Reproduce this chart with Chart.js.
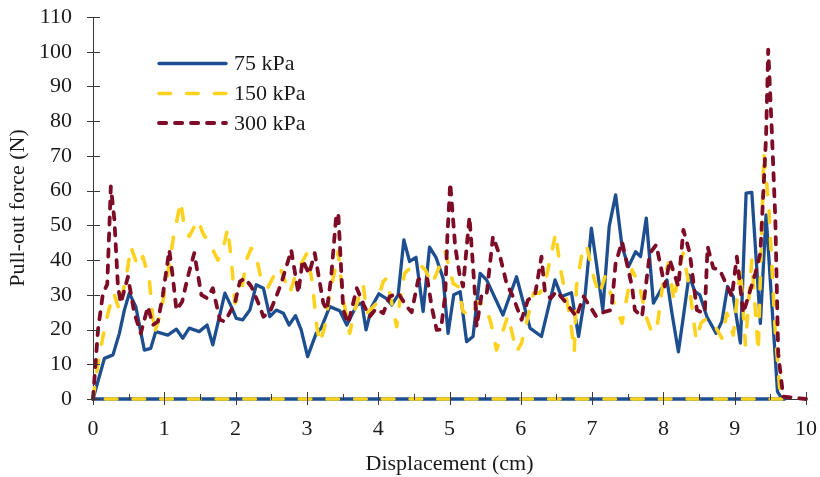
<!DOCTYPE html>
<html><head><meta charset="utf-8">
<script src="https://cdn.jsdelivr.net/npm/chart.js@4/dist/chart.umd.min.js"></script>
<style>html,body{margin:0;padding:0;background:#fff}canvas{display:block}</style>
</head><body>
<canvas id="c" width="820" height="477"></canvas>
<script>
const seriesLabels = ['75 kPa', '150 kPa', '300 kPa'];
const xTicks = [0,1,2,3,4,5,6,7,8,9,10];
const yTicks = [0,10,20,30,40,50,60,70,80,90,100,110];

const x75 = [0,0.16,0.28,0.37,0.44,0.51,0.60,0.72,0.81,0.88,1.05,1.17,1.26,1.35,1.49,1.6,1.68,1.85,1.94,2.01,2.1,2.2,2.29,2.39,2.48,2.57,2.67,2.75,2.84,2.92,3.01,3.13,3.2,3.32,3.46,3.56,3.7,3.77,3.83,3.91,4.01,4.11,4.19,4.28,4.36,4.44,4.53,4.63,4.72,4.81,4.91,4.98,5.06,5.15,5.24,5.33,5.43,5.52,5.75,5.94,6.13,6.29,6.48,6.57,6.71,6.81,6.9,6.99,7.06,7.15,7.24,7.33,7.42,7.51,7.61,7.68,7.76,7.86,7.95,8.05,8.12,8.21,8.28,8.36,8.44,8.51,8.61,8.74,8.82,8.9,8.98,9.08,9.16,9.24,9.36,9.44,9.6,9.66,9.7,0];
const y75 = [0,11.7,12.7,18.9,25.6,30.5,26.6,14.1,14.6,19.4,18.4,20.1,17.5,20.4,19.4,21.3,15.6,30.5,26.6,23.2,22.8,25.6,32.9,31.9,23.7,25.6,24.7,21.3,24,19.9,12.2,18.9,20.4,26.6,25.4,21.3,27.1,27.6,19.9,26.6,30.3,29,27.1,30,45.8,39.6,40.8,25.2,43.7,40.8,34.8,18.9,30,30.9,16.5,18,36.2,34.3,24.2,35.2,20.4,18,34.3,29.5,30.6,18,29.5,49.2,39.1,25.6,49.7,58.8,43.9,38.1,42.4,41,52.1,27.6,30.9,34.3,24.7,13.6,23.7,35.7,31,30,23.7,18.9,22.3,32.4,29.5,16.1,59.3,59.5,21.8,53,2.1,0.2,0,0];

const x150 = [0,0.07,0.14,0.21,0.29,0.37,0.49,0.53,0.63,0.7,0.79,0.86,0.95,1.05,1.13,1.23,1.28,1.35,1.47,1.54,1.66,1.75,1.82,1.89,1.94,1.99,2.08,2.15,2.22,2.29,2.36,2.45,2.53,2.62,2.76,2.85,3.0,3.07,3.14,3.18,3.25,3.32,3.39,3.44,3.5,3.6,3.67,3.79,3.84,3.98,4.07,4.12,4.19,4.26,4.3,4.37,4.47,4.56,4.66,4.75,4.82,4.94,5.05,5.12,5.19,5.31,5.4,5.5,5.58,5.66,5.73,5.82,5.94,6.01,6.1,6.18,6.27,6.36,6.43,6.49,6.55,6.62,6.69,6.75,6.78,6.85,6.92,7.02,7.1,7.18,7.3,7.42,7.56,7.66,7.76,7.84,7.92,8.0,8.07,8.15,8.22,8.28,8.37,8.46,8.53,8.61,8.7,8.82,8.89,8.98,9.08,9.15,9.24,9.33,9.41,9.48,9.57,9.64,9.7,0];
const y150 = [0,10.3,18,24.7,30.5,25.6,38.1,43.9,38.1,41,34.3,18.9,24.7,36.2,46.8,56.9,49.7,46.8,51.6,47.8,43.9,40,42.9,49.2,40,27.6,30.5,40,43.4,41,34.3,32,35.2,38.1,30.5,36.2,42,34.3,20.8,16.1,20.8,30.5,36.7,42.5,30,18.9,25.6,32.9,24.7,27.6,33.8,34.8,27.6,20.8,27.6,36.2,38.1,39.1,37.2,33,36.2,42.4,33.3,32.4,25.2,23.7,28,27,22,14.1,18.4,24,13.6,16.1,23.7,30.5,30.5,35.2,42,47.8,38.1,30.9,23.7,13.5,32.4,41,44.4,35.2,30,35.2,28,21.8,37.2,33,23.7,18.9,22,34.3,39.1,28,38,42,31.4,17,22,23.2,21.8,17.5,24.7,18.4,37.7,15.6,40,13.6,70.8,55,18.9,0.7,0,0];

const x300 = [0,0.07,0.14,0.2,0.25,0.3,0.35,0.39,0.49,0.58,0.67,0.77,0.84,0.91,0.98,1.07,1.12,1.17,1.25,1.33,1.42,1.52,1.6,1.68,1.78,1.85,1.99,2.06,2.13,2.22,2.32,2.39,2.48,2.57,2.64,2.74,2.78,2.88,2.94,3.03,3.11,3.23,3.28,3.34,3.41,3.44,3.51,3.58,3.7,3.8,3.88,3.97,4.07,4.16,4.28,4.4,4.47,4.56,4.63,4.69,4.75,4.82,4.88,4.94,4.97,5.01,5.08,5.14,5.19,5.28,5.36,5.38,5.45,5.52,5.61,5.71,5.8,5.89,6.01,6.1,6.2,6.29,6.34,6.42,6.5,6.64,6.78,6.88,6.96,7.06,7.16,7.27,7.33,7.42,7.56,7.6,7.7,7.81,7.9,8.02,8.09,8.21,8.28,8.37,8.47,8.51,8.58,8.62,8.7,8.79,8.96,9.03,9.12,9.29,9.36,9.44,9.47,9.52,9.57,9.61,9.68,10];
const y300 = [0,19.9,30.5,33,61.2,51.6,32.4,27.6,35.2,24.7,18.9,26.6,21.3,22.3,30,42.9,35,25.6,28,35.2,42,30,29,31.9,22.8,22.3,27.6,33.8,34.8,32.4,27.6,23.7,25,29.5,33.3,40,42.9,30.5,40,36,42,27.6,25.6,35,52.5,53.5,25.6,21.8,31.9,27,23.7,26,24.7,29.5,30.5,26.6,25,34.3,35.2,34.5,26.6,19.9,20,30,46.8,62.2,43.9,36,32.4,52.5,29.5,20.8,30,30,46.8,41,33.3,29.5,22.8,28.5,30,41,30.5,29,31,27.6,23.7,29.5,27,23.7,25,25.6,39.1,45.3,32.4,25.6,23.7,42,44.4,32.4,40,32.4,48.7,42,25.6,25.2,24.7,43.9,37.7,37.2,29.5,41,24.7,36.2,42,75.6,100.6,77.5,51.6,13.2,0.7,0];

const toPts = (xs, ys) => xs.map((x, i) => ({x, y: ys[i]}));

const FONT = 'Liberation Serif, Times New Roman, serif';
const FSIZE = 22;
const TEXT = '#1a1a1a';
const AXIS = '#3a3a3a';

const styles = [
  {color:'#1D4F90', width:3.3, dash:[], cap:'round', order:2},
  {color:'#FDD21F', width:3.6, dash:[11.5,16.2], cap:'round', order:1},
  {color:'#7D0C27', width:3.8, dash:[7.2,8.8], cap:'round', order:0}
];
const dataPairs = [[x75,y75],[x150,y150],[x300,y300]];

const datasets = seriesLabels.map((lab, i) => ({
  label: lab,
  data: toPts(dataPairs[i][0], dataPairs[i][1]),
  showLine: true,
  borderColor: styles[i].color,
  backgroundColor: styles[i].color,
  borderWidth: styles[i].width,
  borderDash: styles[i].dash,
  borderCapStyle: styles[i].cap,
  borderJoinStyle: 'round',
  pointRadius: 0,
  tension: 0,
  fill: false,
  clip: false,
  order: styles[i].order
}));

const axesPlugin = {
  id: 'axesPlugin',
  beforeDatasetsDraw(chart) {
    const {ctx, chartArea:a} = chart;
    ctx.save();
    ctx.strokeStyle = AXIS; ctx.lineWidth = 1;
    ctx.beginPath();
    ctx.moveTo(a.left + 0.5, a.top); ctx.lineTo(a.left + 0.5, a.bottom);
    ctx.moveTo(a.left, a.bottom + 0.5); ctx.lineTo(a.right, a.bottom + 0.5);
    ctx.stroke();
    ctx.restore();
  },
  afterDatasetsDraw(chart) {
    const {ctx, chartArea:a, scales:{x, y}} = chart;
    ctx.save();
    ctx.strokeStyle = AXIS; ctx.lineWidth = 1;
    ctx.beginPath();
    yTicks.forEach(v => {
      const py = Math.round(y.getPixelForValue(v)) + 0.5;
      ctx.moveTo(a.left - 6, py); ctx.lineTo(a.left + 7, py);
    });
    xTicks.forEach(v => {
      const px = Math.round(x.getPixelForValue(v)) + 0.5;
      ctx.moveTo(px, a.bottom - 7); ctx.lineTo(px, a.bottom + 6);
      if (v < 10) {
        const pm = Math.round(x.getPixelForValue(v + 0.5)) + 0.5;
        ctx.moveTo(pm, a.bottom - 5); ctx.lineTo(pm, a.bottom + 1);
      }
    });
    ctx.stroke();
    ctx.restore();
  }
};

const legendPlugin = {
  id: 'lineLegend',
  afterDraw(chart) {
    const {ctx} = chart;
    const rows = [63.5, 93.5, 123];
    ctx.save();
    chart.data.datasets.forEach((ds, i) => {
      ctx.strokeStyle = ds.borderColor;
      ctx.lineWidth = ds.borderWidth;
      ctx.setLineDash(ds.borderDash);
      ctx.lineCap = ds.borderCapStyle;
      ctx.beginPath();
      ctx.moveTo(159, rows[i]); ctx.lineTo(226, rows[i]);
      ctx.stroke();
      ctx.setLineDash([]);
      ctx.fillStyle = TEXT;
      ctx.font = FSIZE + 'px ' + FONT;
      ctx.textBaseline = 'middle';
      ctx.textAlign = 'left';
      ctx.fillText(ds.label, 234, rows[i] + 1);
    });
    ctx.restore();
  }
};

new Chart(document.getElementById('c'), {
  type: 'scatter',
  data: { datasets },
  options: {
    responsive: false,
    animation: false,
    devicePixelRatio: 1,
    layout: { padding: { left: 0, right: 14, top: 17, bottom: 0 } },
    plugins: { legend: { display: false }, tooltip: { enabled: false } },
    scales: {
      x: {
        type: 'linear', min: 0, max: 10,
        afterBuildTicks(s) { s.ticks = xTicks.map(v => ({value: v})); },
        ticks: { color: TEXT, font: { family: FONT, size: FSIZE }, padding: 17, maxRotation: 0, autoSkip: false },
        grid: { display: false, drawTicks: false },
        border: { display: false },
        title: { display: true, text: 'Displacement (cm)', color: TEXT, font: { family: FONT, size: FSIZE }, padding: { top: 2, bottom: 0 } },
        afterFit(s) { s.height = 78; s.paddingLeft = 0; s.paddingRight = 0; }
      },
      y: {
        type: 'linear', min: 0, max: 110,
        afterBuildTicks(s) { s.ticks = yTicks.map(v => ({value: v})); },
        ticks: { color: TEXT, font: { family: FONT, size: FSIZE }, padding: 21, autoSkip: false },
        grid: { display: false, drawTicks: false },
        border: { display: false },
        title: { display: true, text: 'Pull-out force (N)', color: TEXT, font: { family: FONT, size: FSIZE }, padding: { top: 5, bottom: 0 } },
        afterFit(s) { s.width = 93; s.paddingTop = 0; s.paddingBottom = 0; }
      }
    }
  },
  plugins: [axesPlugin, legendPlugin]
});
</script>
</body></html>
